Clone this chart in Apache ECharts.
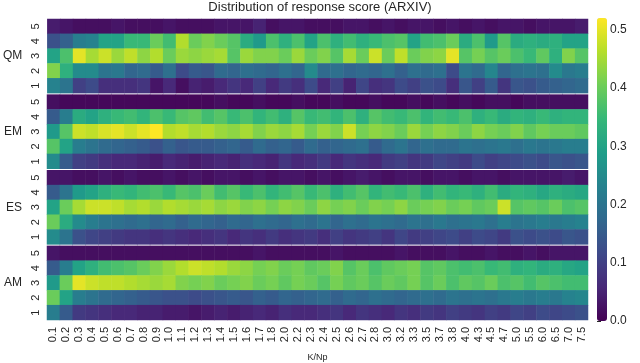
<!DOCTYPE html>
<html>
<head>
<meta charset="utf-8">
<script src="https://cdn.jsdelivr.net/npm/echarts@6/dist/echarts.min.js"></script>
<style>
html,body{margin:0;padding:0;background:#fff;}
#chart{width:640px;height:363px;}
</style>
</head>
<body>
<div id="chart"></div>
<script>
const kNp = ['0.1','0.2','0.3','0.4','0.5','0.6','0.7','0.8','0.9','1.0','1.1','1.2','1.3','1.4',
  '1.5','1.6','1.7','1.8','2.0','2.2','2.3','2.4','2.5','2.6','2.7','2.8','3.0','3.2','3.3',
  '3.5','3.7','3.8','4.0','4.3','4.5','4.7','5.0','5.5','6.0','6.5','7.0','7.5'];
const scores = ['5', '4', '3', '2', '1'];
const groups = ['QM', 'EM', 'ES', 'AM'];
const colorTicks = [0, 0.1, 0.2, 0.3, 0.4, 0.5];
const viridis = ['#440154', '#482878', '#3e4989', '#31688e', '#26828e',
  '#1f9e89', '#35b779', '#6ece58', '#b5de2b', '#fde725'];

// QM
const qm5 = [0.04,0.03,0.02,0.02,0.02,0.03,0.02,0.02,0.02,0.03,0.02,0.02,0.02,0.03,0.03,0.03,0.05,0.02,0.03,0.03,0.02,
  0.02,0.02,0.03,0.03,0.02,0.03,0.02,0.03,0.03,0.02,0.03,0.02,0.03,0.02,0.03,0.03,0.02,0.03,0.03,0.03,0.04];
const qm4 = [0.13,0.16,0.22,0.23,0.30,0.30,0.35,0.35,0.40,0.36,0.46,0.40,0.42,0.40,0.38,0.32,0.28,0.37,0.33,0.37,0.30,
  0.37,0.33,0.36,0.33,0.35,0.37,0.38,0.30,0.36,0.37,0.40,0.32,0.37,0.28,0.38,0.32,0.33,0.32,0.33,0.30,0.30];
const qm3 = [0.30,0.37,0.50,0.45,0.48,0.44,0.47,0.43,0.46,0.40,0.44,0.43,0.44,0.45,0.38,0.44,0.42,0.42,0.40,0.44,0.40,
  0.42,0.38,0.45,0.40,0.48,0.40,0.47,0.40,0.42,0.43,0.50,0.38,0.41,0.38,0.40,0.37,0.35,0.39,0.33,0.42,0.38];
const qm2 = [0.42,0.33,0.25,0.25,0.20,0.21,0.17,0.18,0.15,0.19,0.12,0.15,0.14,0.18,0.17,0.19,0.18,0.17,0.19,0.17,0.25,
  0.18,0.19,0.17,0.18,0.17,0.19,0.16,0.19,0.18,0.19,0.12,0.20,0.18,0.24,0.17,0.19,0.20,0.19,0.25,0.21,0.22];
const qm1 = [0.23,0.20,0.10,0.12,0.07,0.07,0.07,0.08,0.03,0.06,0.02,0.05,0.04,0.06,0.08,0.06,0.10,0.06,0.09,0.07,0.12,
  0.06,0.10,0.05,0.11,0.07,0.08,0.12,0.10,0.13,0.12,0.07,0.14,0.10,0.15,0.08,0.14,0.13,0.15,0.16,0.17,0.18];

// EM
const em5 = [0.02,0.01,0.01,0.01,0.01,0.01,0.01,0.01,0.01,0.01,0.01,0.01,0.01,0.02,0.01,0.01,0.02,0.01,0.01,0.02,0.01,
  0.01,0.02,0.01,0.01,0.02,0.01,0.01,0.02,0.01,0.02,0.01,0.02,0.01,0.02,0.02,0.01,0.02,0.02,0.02,0.02,0.02];
const em4 = [0.15,0.22,0.32,0.30,0.33,0.35,0.36,0.34,0.37,0.35,0.38,0.39,0.36,0.38,0.35,0.37,0.34,0.36,0.33,0.38,0.35,
  0.36,0.34,0.37,0.33,0.38,0.36,0.35,0.37,0.34,0.36,0.35,0.37,0.33,0.35,0.32,0.34,0.33,0.35,0.33,0.34,0.34];
const em3 = [0.28,0.38,0.48,0.47,0.49,0.50,0.48,0.50,0.52,0.46,0.47,0.45,0.46,0.44,0.43,0.45,0.42,0.44,0.43,0.45,0.41,
  0.44,0.42,0.48,0.41,0.43,0.42,0.40,0.44,0.41,0.43,0.42,0.40,0.43,0.41,0.40,0.42,0.39,0.41,0.40,0.40,0.39];
const em2 = [0.38,0.30,0.22,0.20,0.18,0.17,0.16,0.15,0.13,0.16,0.14,0.15,0.15,0.16,0.17,0.15,0.18,0.16,0.17,0.15,0.18,
  0.16,0.17,0.18,0.19,0.15,0.18,0.20,0.17,0.19,0.18,0.18,0.20,0.19,0.20,0.21,0.19,0.21,0.20,0.21,0.22,0.22];
const em1 = [0.25,0.15,0.10,0.09,0.07,0.06,0.06,0.05,0.04,0.06,0.05,0.04,0.05,0.06,0.05,0.07,0.06,0.05,0.08,0.06,0.07,
  0.09,0.06,0.08,0.07,0.06,0.09,0.10,0.08,0.09,0.11,0.10,0.09,0.12,0.10,0.11,0.12,0.13,0.12,0.14,0.13,0.14];

// ES
const es5 = [0.03,0.03,0.02,0.02,0.03,0.02,0.03,0.02,0.02,0.03,0.02,0.03,0.02,0.03,0.03,0.02,0.03,0.02,0.03,0.03,0.02,
  0.03,0.02,0.03,0.04,0.03,0.02,0.03,0.03,0.02,0.03,0.03,0.02,0.03,0.03,0.02,0.03,0.03,0.03,0.03,0.04,0.03];
const es4 = [0.15,0.20,0.28,0.30,0.33,0.35,0.34,0.36,0.37,0.35,0.38,0.37,0.40,0.36,0.38,0.35,0.37,0.34,0.36,0.38,0.35,
  0.37,0.33,0.36,0.38,0.34,0.36,0.35,0.37,0.33,0.36,0.34,0.35,0.33,0.36,0.32,0.34,0.33,0.31,0.33,0.32,0.31];
const es3 = [0.30,0.40,0.45,0.48,0.48,0.47,0.45,0.46,0.44,0.46,0.45,0.44,0.45,0.43,0.44,0.42,0.43,0.41,0.43,0.42,0.40,
  0.43,0.41,0.42,0.40,0.42,0.41,0.43,0.40,0.41,0.42,0.40,0.41,0.39,0.40,0.48,0.38,0.39,0.38,0.40,0.37,0.38];
const es2 = [0.40,0.32,0.25,0.22,0.20,0.19,0.18,0.19,0.17,0.18,0.16,0.18,0.17,0.16,0.18,0.17,0.19,0.18,0.17,0.19,0.18,
  0.20,0.17,0.19,0.18,0.20,0.19,0.18,0.20,0.19,0.21,0.19,0.20,0.21,0.19,0.22,0.20,0.21,0.22,0.21,0.22,0.23];
const es1 = [0.25,0.20,0.13,0.11,0.10,0.09,0.08,0.08,0.07,0.08,0.07,0.06,0.07,0.08,0.06,0.08,0.07,0.09,0.07,0.08,0.09,
  0.07,0.10,0.08,0.09,0.10,0.08,0.11,0.09,0.10,0.11,0.12,0.10,0.12,0.11,0.09,0.13,0.12,0.13,0.12,0.14,0.13];

// AM
const am5 = [0.03,0.02,0.02,0.02,0.02,0.02,0.02,0.02,0.02,0.02,0.02,0.02,0.02,0.02,0.02,0.02,0.03,0.02,0.02,0.02,0.02,
  0.02,0.03,0.02,0.02,0.02,0.02,0.03,0.02,0.02,0.02,0.03,0.02,0.02,0.03,0.02,0.02,0.03,0.02,0.03,0.03,0.03];
const am4 = [0.15,0.22,0.30,0.33,0.36,0.37,0.38,0.40,0.42,0.44,0.46,0.48,0.47,0.46,0.44,0.43,0.41,0.42,0.40,0.41,0.39,
  0.40,0.42,0.38,0.40,0.37,0.39,0.40,0.41,0.38,0.39,0.37,0.36,0.37,0.35,0.36,0.33,0.34,0.32,0.33,0.31,0.30];
const am3 = [0.28,0.40,0.50,0.48,0.47,0.47,0.46,0.45,0.44,0.45,0.42,0.41,0.42,0.40,0.41,0.42,0.40,0.41,0.39,0.41,0.40,
  0.38,0.41,0.39,0.40,0.38,0.40,0.39,0.41,0.38,0.40,0.37,0.39,0.38,0.40,0.37,0.38,0.36,0.38,0.37,0.36,0.36];
const am2 = [0.40,0.30,0.22,0.20,0.18,0.17,0.16,0.15,0.14,0.13,0.13,0.12,0.13,0.14,0.15,0.14,0.16,0.15,0.17,0.16,0.17,
  0.18,0.16,0.18,0.17,0.19,0.18,0.17,0.18,0.19,0.18,0.20,0.19,0.20,0.19,0.21,0.22,0.21,0.22,0.21,0.23,0.24];
const am1 = [0.22,0.15,0.09,0.08,0.07,0.06,0.06,0.05,0.05,0.04,0.04,0.03,0.04,0.05,0.04,0.05,0.06,0.05,0.07,0.06,0.06,
  0.07,0.08,0.06,0.08,0.07,0.06,0.08,0.07,0.09,0.08,0.10,0.09,0.08,0.10,0.09,0.11,0.10,0.12,0.11,0.12,0.13];

const groupRows = [
  [qm5, qm4, qm3, qm2, qm1],
  [em5, em4, em3, em2, em1],
  [es5, es4, es3, es2, es1],
  [am5, am4, am3, am2, am1],
];

const font = 'Liberation Sans, Arial, sans-serif';
const textColor = '#262626';
const top0 = 19, bottom0 = 320, gap = 1.5;
const h = (bottom0 - top0 - 3 * gap) / 4;

const grid = [], xAxis = [], yAxis = [], series = [];
groups.forEach((g, gi) => {
  grid.push({ left: 47, right: 52, top: top0 + gi * (h + gap), height: h });
  const last = gi === groups.length - 1;
  xAxis.push({
    type: 'category', gridIndex: gi, data: kNp, show: last,
    axisLine: { show: false }, axisTick: { show: false }, splitLine: { show: false },
    axisLabel: { interval: 0, rotate: 90, margin: 7, fontSize: 11, color: textColor, fontFamily: font },
    name: last ? 'K/Np' : '', nameLocation: 'middle', nameGap: 33,
    nameTextStyle: { fontSize: 9, color: textColor, fontFamily: font },
  });
  yAxis.push({
    type: 'category', gridIndex: gi, data: scores, inverse: true,
    axisLine: { show: false }, axisTick: { show: false }, splitLine: { show: false },
    axisLabel: { rotate: 90, margin: 6, fontSize: 11, color: textColor, fontFamily: font },
    name: g, nameLocation: 'middle', nameRotate: 0, nameGap: 25,
    nameTextStyle: { fontSize: 12, color: textColor, fontFamily: font },
  });
  const data = [];
  groupRows[gi].forEach((row, ri) => {
    row.forEach((v, ci) => data.push([ci, ri, v]));
  });
  series.push({
    type: 'heatmap', xAxisIndex: gi, yAxisIndex: gi, data,
    itemStyle: { borderWidth: 0 },
    emphasis: { disabled: true },
  });
});

// colour bar axis
grid.push({ left: 597, top: 18, width: 10, height: 303 });
xAxis.push({ type: 'value', gridIndex: 4, show: false });
yAxis.push({
  type: 'value', gridIndex: 4, position: 'right', min: 0, max: 0.52, interval: 0.1,
  axisLine: { show: false }, splitLine: { show: false },
  axisTick: { show: true, length: 4, customValues: colorTicks, lineStyle: { color: textColor } },
  axisLabel: {
    customValues: colorTicks, margin: 3, fontSize: 12, color: textColor, fontFamily: font,
    formatter: v => v.toFixed(1),
  },
});

const chart = echarts.init(document.getElementById('chart'));
chart.setOption({
  animation: false,
  title: {
    text: 'Distribution of response score (ARXIV)', left: 'center', top: 1, padding: 0,
    textStyle: { fontSize: 13, fontWeight: 'normal', color: textColor, fontFamily: font },
  },
  grid, xAxis, yAxis, series,
  visualMap: {
    type: 'continuous', min: 0, max: 0.52, seriesIndex: [0, 1, 2, 3],
    left: 597, top: 18, itemWidth: 10, itemHeight: 303, padding: 0,
    calculable: false, hoverLink: false,
    inRange: { color: viridis },
  },
});
</script>
</body>
</html>
